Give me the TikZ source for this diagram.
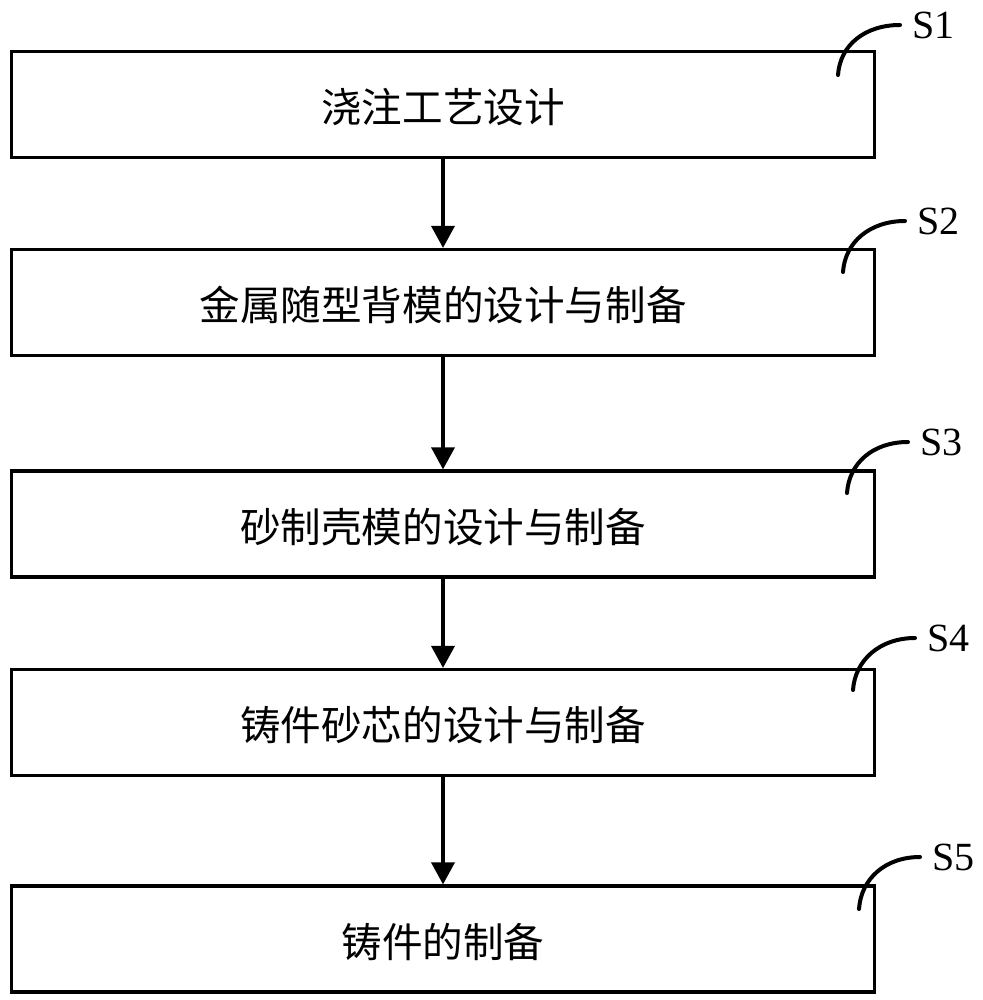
\documentclass[tikz,border=0pt]{standalone}
\usepackage{fontspec}
\setmainfont{Liberation Serif}
\newfontfamily\cjk{Noto Sans CJK SC}
\usetikzlibrary{arrows.meta}

\begin{document}
\begin{tikzpicture}[
	x=0.5pt, y=-0.5pt,
	box/.style={draw, line width=1.6pt, minimum width=431.5pt, minimum height=53pt,
		inner sep=0pt, font=\cjk\fontsize{20.3pt}{24pt}\selectfont,
		text height=1.9em, text depth=0.1em},
	lbl/.style={anchor=west, inner sep=6pt, font=\fontsize{20pt}{24pt}\selectfont},
	arr/.style={-{Triangle[width=11.5pt,length=11pt]}, line width=1.8pt},
	tag/.style={line width=2pt, line cap=round}
	]
	\useasboundingbox (0,0) rectangle (983,1000);
	\node[box] (s1) at (443,104.5) {浇注工艺设计};
	\node[box] (s2) at (443,302.5) {金属随型背模的设计与制备};
	\node[box] (s3) at (443,524)   {砂制壳模的设计与制备};
	\node[box] (s4) at (443,722.5) {铸件砂芯的设计与制备};
	\node[box] (s5) at (443,939)   {铸件的制备};

	\node[lbl] (l1) at (900,25)  {S1};
	\node[lbl] (l2) at (905,221) {S2};
	\node[lbl] (l3) at (908,442) {S3};
	\node[lbl] (l4) at (915,638) {S4};
	\node[lbl] (l5) at (920,857) {S5};

	\coordinate (c1) at (838,75);
	\coordinate (c2) at (843,272);
	\coordinate (c3) at (847,493);
	\coordinate (c4) at (853,690);
	\coordinate (c5) at (859,909);

	\draw[arr] (s1) -- (s2);
	\draw[arr] (s2) -- (s3);
	\draw[arr] (s3) -- (s4);
	\draw[arr] (s4) -- (s5);

	\draw[tag] (c1) .. controls +(2,-30) and +(-35,0) .. (l1.west);
	\draw[tag] (c2) .. controls +(2,-30) and +(-35,0) .. (l2.west);
	\draw[tag] (c3) .. controls +(2,-30) and +(-35,0) .. (l3.west);
	\draw[tag] (c4) .. controls +(2,-30) and +(-35,0) .. (l4.west);
	\draw[tag] (c5) .. controls +(2,-30) and +(-35,0) .. (l5.west);
\end{tikzpicture}
\end{document}
